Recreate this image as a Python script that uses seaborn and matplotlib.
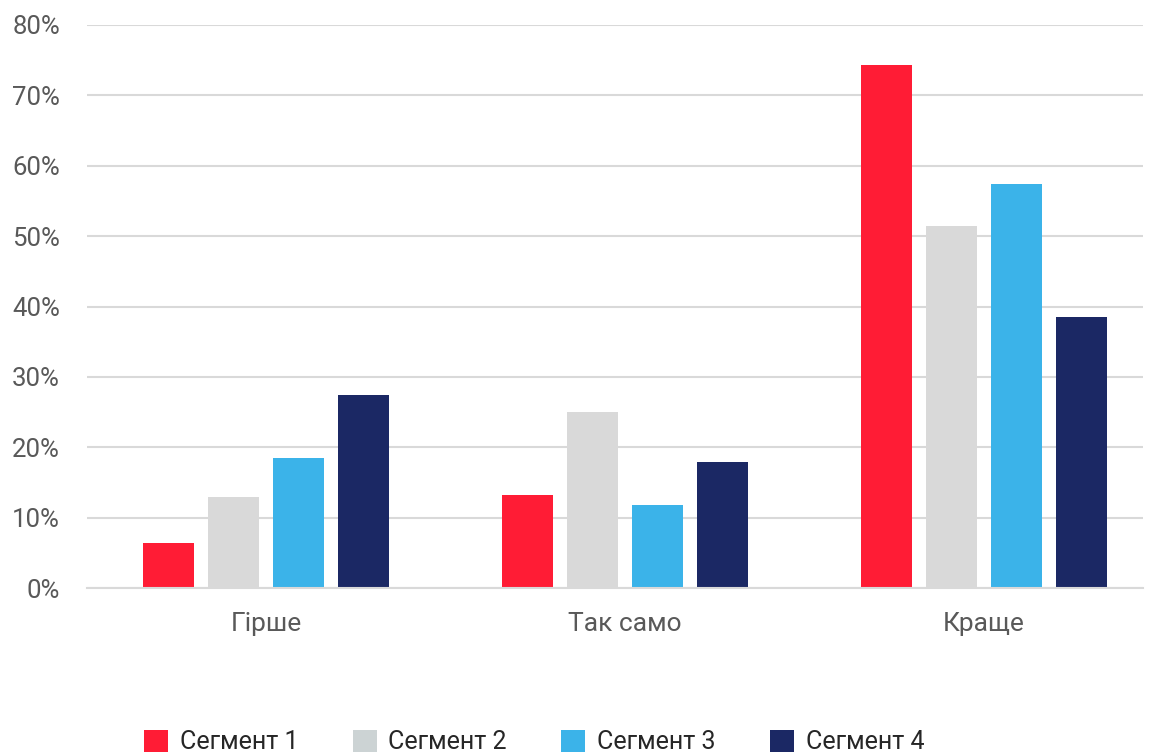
import matplotlib
matplotlib.use("Agg")
import matplotlib.pyplot as plt
import seaborn as sns
import pandas as pd
from matplotlib.patches import Patch
from matplotlib.ticker import FuncFormatter, MultipleLocator

categories = ["Гірше", "Так само", "Краще"]
segments = ["Сегмент 1", "Сегмент 2", "Сегмент 3", "Сегмент 4"]
seg1 = [6.4, 13.2, 74.3]
seg2 = [12.9, 25.0, 51.4]
seg3 = [18.5, 11.8, 57.4]
seg4 = [27.4, 17.9, 38.5]
colors = ["#FF1C35", "#D9D9D9", "#3BB3E9", "#1B2864"]
legend_colors = ["#FF1C35", "#CCD3D4", "#3BB3E9", "#1B2864"]

rows = []
for seg, vals in zip(segments, [seg1, seg2, seg3, seg4]):
    for c, v in zip(categories, vals):
        rows.append({"cat": c, "seg": seg, "val": v})
df = pd.DataFrame(rows)

sns.set_theme(style="white")
plt.rcParams["font.family"] = ["Roboto", "DejaVu Sans"]

fig = plt.figure(figsize=(11.54, 7.56), dpi=100)
ax = fig.add_axes([87/1154, 1-588/756, (1143-87)/1154, (588-25)/756])

sns.barplot(data=df, x="cat", y="val", hue="seg", order=categories,
            hue_order=segments, palette=colors, width=0.724, gap=0.215,
            saturation=1, ax=ax, legend=False, linewidth=0)

ax.set_ylim(0, 80)
ax.set_xlim(-0.4986, 2.443)
ax.yaxis.set_major_locator(MultipleLocator(10))
ax.yaxis.set_major_formatter(FuncFormatter(lambda v, p: f"{v:.0f}%"))
ax.grid(axis="y", color="#D9D9D9", linewidth=1.5)
ax.set_axisbelow(True)
for s in ["left", "right", "top"]:
    ax.spines[s].set_visible(False)
ax.spines["bottom"].set_color("#D9D9D9")
ax.spines["bottom"].set_linewidth(1.5)
ax.set_xlabel("")
ax.set_ylabel("")
ax.tick_params(axis="y", length=0, pad=19.5, labelsize=18.5, labelcolor="#595959")
ax.tick_params(axis="x", length=0, pad=17, labelsize=19, labelcolor="#595959")

handles = [Patch(facecolor=c, edgecolor="none") for c in legend_colors]
leg = fig.legend(handles, segments, loc="center left",
           bbox_to_anchor=(144/1154, 1-742/756), ncol=4, frameon=False,
           fontsize=18, borderpad=0, borderaxespad=0,
           handlelength=0.96, handleheight=0.96, handletextpad=0.48,
           columnspacing=2.16, labelcolor="#262626")

fig.savefig("out.png", dpi=100)
